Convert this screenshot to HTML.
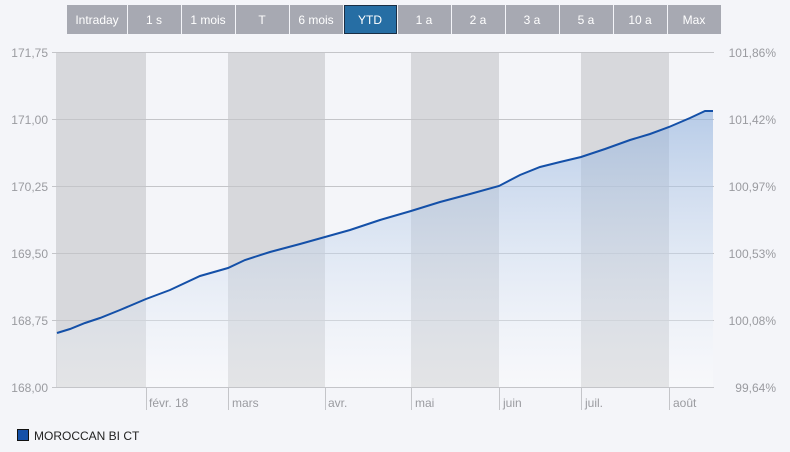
<!DOCTYPE html>
<html><head><meta charset="utf-8"><style>
body{margin:0;width:790px;height:447px;background:#f4f5f9;font-family:"Liberation Sans",sans-serif;overflow:hidden}
</style></head><body>
<svg width="790" height="447" xmlns="http://www.w3.org/2000/svg" font-family="Liberation Sans, sans-serif">
<defs><linearGradient id="g" x1="0" y1="0" x2="0" y2="1">
<stop offset="0" stop-color="#8fb0dc" stop-opacity="0.6"/><stop offset="1" stop-color="#ffffff" stop-opacity="0.3"/></linearGradient></defs>
<rect width="790" height="447" fill="#f4f5f9"/>
<g fill="#a7a9b2">
<rect x="67" y="5" width="60" height="29"/><rect x="128" y="5" width="53" height="29"/><rect x="182" y="5" width="53" height="29"/><rect x="236" y="5" width="53" height="29"/><rect x="290" y="5" width="53" height="29"/>
<rect x="398" y="5" width="53" height="29"/><rect x="452" y="5" width="53" height="29"/><rect x="506" y="5" width="53" height="29"/><rect x="560" y="5" width="53" height="29"/><rect x="614" y="5" width="53" height="29"/><rect x="668" y="5" width="53" height="29"/>
</g>
<rect x="344.5" y="5.5" width="52" height="28" fill="#266ea4" stroke="#1a2e44"/>
<g fill="#fff" font-size="12" text-anchor="middle">
<text x="97" y="24">Intraday</text><text x="154" y="24">1 s</text><text x="208" y="24">1 mois</text><text x="262" y="24">T</text><text x="316" y="24">6 mois</text><text x="370" y="24">YTD</text><text x="424" y="24">1 a</text><text x="478" y="24">2 a</text><text x="532" y="24">3 a</text><text x="586" y="24">5 a</text><text x="640" y="24">10 a</text><text x="694" y="24">Max</text>
</g>
<g fill="#d7d8dc">
<rect x="56" y="52" width="90" height="335"/><rect x="228" y="52" width="97" height="335"/><rect x="411" y="52" width="88" height="335"/><rect x="581" y="52" width="88" height="335"/>
</g>
<g stroke="#c4c5c9" stroke-width="1">
<line x1="52" y1="52.5" x2="714" y2="52.5"/><line x1="52" y1="119.5" x2="714" y2="119.5"/><line x1="52" y1="186.5" x2="714" y2="186.5"/><line x1="52" y1="253.5" x2="714" y2="253.5"/><line x1="52" y1="320.5" x2="714" y2="320.5"/><line x1="52" y1="387.5" x2="714" y2="387.5"/>
<line x1="146.5" y1="387" x2="146.5" y2="410"/><line x1="228.5" y1="387" x2="228.5" y2="410"/><line x1="325.5" y1="387" x2="325.5" y2="410"/><line x1="411.5" y1="387" x2="411.5" y2="410"/><line x1="499.5" y1="387" x2="499.5" y2="410"/><line x1="581.5" y1="387" x2="581.5" y2="410"/><line x1="669.5" y1="387" x2="669.5" y2="410"/>
</g>
<polygon fill="url(#g)" points="57,333 70,329 85,323 100,318 120,310 146,299 170,290 200,276 228,268 245,260 270,252 300,244 325,237 350,230 380,220 411,211 440,202 470,194 499,186 520,175 540,167 560,162 581,157 605,149 630,140 650,134 669,127 690,118 705,111 713,111 713,387 57,387"/>
<polyline fill="none" stroke="#1450a8" stroke-width="2" points="57,333 70,329 85,323 100,318 120,310 146,299 170,290 200,276 228,268 245,260 270,252 300,244 325,237 350,230 380,220 411,211 440,202 470,194 499,186 520,175 540,167 560,162 581,157 605,149 630,140 650,134 669,127 690,118 705,111 713,111"/>
<g fill="#9a9ba0" font-size="12" text-anchor="end">
<text x="48" y="57">171,75</text><text x="48" y="124">171,00</text><text x="48" y="191">170,25</text><text x="48" y="258">169,50</text><text x="48" y="325">168,75</text><text x="48" y="392">168,00</text>
</g>
<g fill="#9a9ba0" font-size="12" text-anchor="end">
<text x="776" y="57">101,86%</text><text x="776" y="124">101,42%</text><text x="776" y="191">100,97%</text><text x="776" y="258">100,53%</text><text x="776" y="325">100,08%</text><text x="776" y="392">99,64%</text>
</g>
<g fill="#9a9ba0" font-size="12">
<text x="149" y="407">févr. 18</text><text x="232" y="407">mars</text><text x="328" y="407">avr.</text><text x="415" y="407">mai</text><text x="503" y="407">juin</text><text x="585" y="407">juil.</text><text x="673" y="407">août</text>
</g>
<rect x="17.5" y="429.5" width="11" height="11" fill="#1450a8" stroke="#111"/>
<text x="34" y="440" font-size="12" fill="#222">MOROCCAN BI CT</text>
</svg>
</body></html>
